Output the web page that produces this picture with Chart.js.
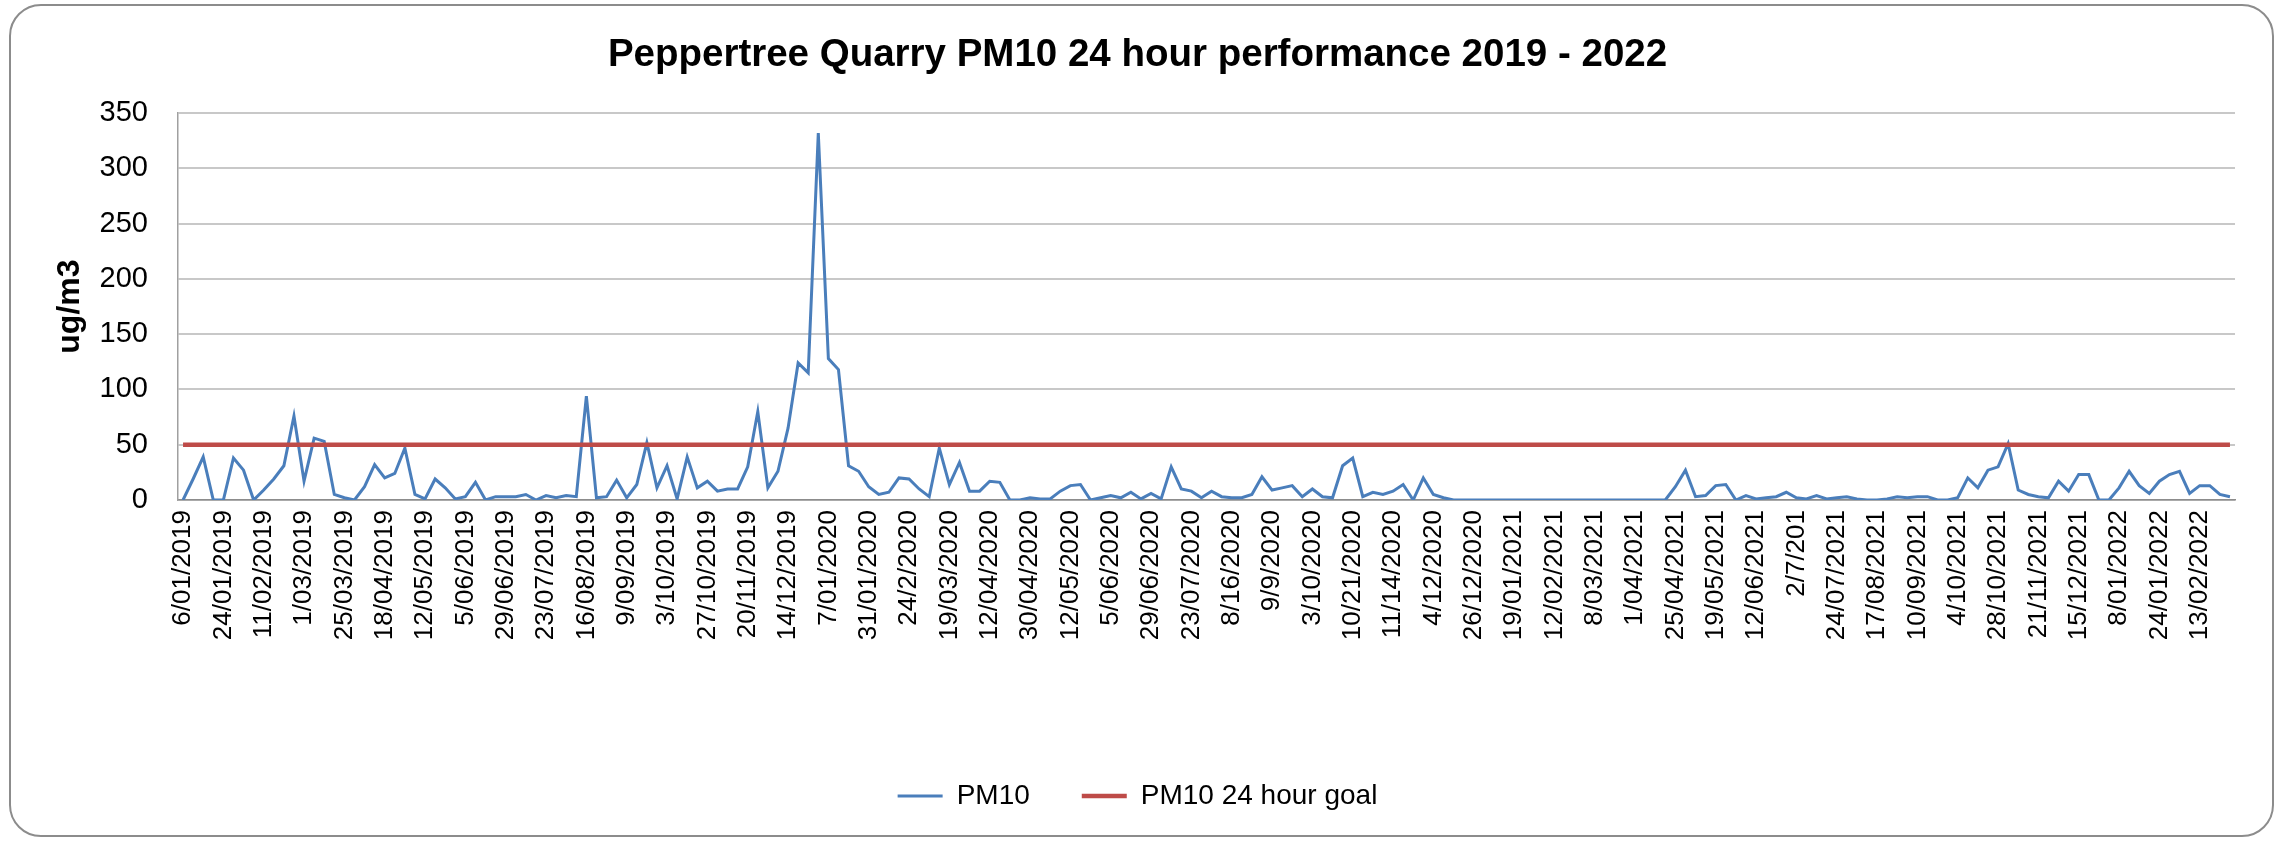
<!DOCTYPE html>
<html><head><meta charset="utf-8">
<script src="https://cdn.jsdelivr.net/npm/chart.js@4"></script>
<style>
html,body{margin:0;padding:0;background:#fff;}
#wrap{position:relative;width:2282px;height:841px;overflow:hidden;}
#frame{position:absolute;left:9px;top:4px;width:2265px;height:833px;border:2px solid #8c8c8c;border-radius:32px;box-sizing:border-box;}
canvas{position:absolute;left:0;top:0;}
</style></head><body>
<div id="wrap"><div id="frame"></div><canvas id="c" width="2282" height="841" style="width:2282px;height:841px"></canvas></div>
<script>
const chartTitle = 'Peppertree Quarry PM10 24 hour performance 2019 - 2022';
const yAxisTitle = 'ug/m3';
const seriesNames = ['PM10', 'PM10 24 hour goal'];
const tickLabels = ['6/01/2019','24/01/2019','11/02/2019','1/03/2019','25/03/2019','18/04/2019','12/05/2019','5/06/2019','29/06/2019','23/07/2019','16/08/2019','9/09/2019','3/10/2019','27/10/2019','20/11/2019','14/12/2019','7/01/2020','31/01/2020','24/2/2020','19/03/2020','12/04/2020','30/04/2020','12/05/2020','5/06/2020','29/06/2020','23/07/2020','8/16/2020','9/9/2020','3/10/2020','10/21/2020','11/14/2020','4/12/2020','26/12/2020','19/01/2021','12/02/2021','8/03/2021','1/04/2021','25/04/2021','19/05/2021','12/06/2021','2/7/201','24/07/2021','17/08/2021','10/09/2021','4/10/2021','28/10/2021','21/11/2021','15/12/2021','8/01/2022','24/01/2022','13/02/2022'];
const labelEvery = 4;
const pm10 = [0,19,39,0,0,38,27,0,9,19,31,76,17,56,53,5,2,0,12,32,20,24,47,5,1,19,11,1,3,16,
0,3,3,3,5,0,4,2,4,3,94,2,3,18,2,14,52,11,31,1,39,11,17,8,10,10,30,80,11,26,
65,124,115,332,128,118,31,26,12,5,7,20,19,10,3,47,14,34,8,8,17,16,0,0,2,1,1,8,13,14,
0,2,4,2,7,1,6,1,30,10,8,2,8,3,2,2,5,21,9,11,13,3,10,3,2,31,38,3,7,5,
8,14,0,20,5,2,0,0,0,0,0,0,0,0,0,0,0,0,0,0,0,0,0,0,0,0,0,0,12,27,
3,4,13,14,0,4,1,2,3,7,2,1,4,1,2,3,1,0,0,1,3,2,3,3,0,0,2,20,11,27,
30,51,9,5,3,2,17,8,23,23,0,0,11,26,13,6,17,23,26,6,13,13,5,3];
const goalValue = 50;
const yMin = 0, yMax = 350, yStep = 50;

const categories = pm10.map((v, i) => (i % labelEvery === 0 && tickLabels[i / labelEvery] !== undefined) ? tickLabels[i / labelEvery] : '');
const goal = categories.map(() => goalValue);

const FONT = "'Liberation Sans', Arial, sans-serif";
Chart.defaults.font.family = FONT;
Chart.defaults.color = '#000';

new Chart(document.getElementById('c'), {
  type: 'line',
  data: {
    labels: categories,
    datasets: [
      { label: seriesNames[0], data: pm10, borderColor: '#4A7EBB', backgroundColor: '#4A7EBB', borderWidth: 3, pointRadius: 0, tension: 0, order: 1 },
      { label: seriesNames[1], data: goal, borderColor: '#BE4B48', backgroundColor: '#BE4B48', borderWidth: 4.5, pointRadius: 0, tension: 0, order: 0 }
    ]
  },
  options: {
    responsive: false,
    animation: false,
    events: [],
    layout: { padding: { left: 40, right: 47, top: 0, bottom: 21 } },
    plugins: {
      tooltip: { enabled: false },
      title: {
        display: true, text: chartTitle,
        font: { family: FONT, size: 38.5, weight: 'bold' },
        color: '#000',
        padding: { top: 32, bottom: 35 }
      },
      legend: {
        position: 'bottom',
        labels: {
          font: { family: FONT, size: 28 },
          color: '#000',
          usePointStyle: true, pointStyle: 'line', pointStyleWidth: 45,
          padding: 52,
          sort: (a, b) => a.datasetIndex - b.datasetIndex
        }
      }
    },
    scales: {
      x: {
        offset: true,
        grid: { display: false, drawTicks: false },
        border: { display: true, color: '#8c8c8c', width: 1.5 },
        ticks: { autoSkip: false, minRotation: 90, maxRotation: 90, padding: 10, font: { family: FONT, size: 26 }, color: '#000' },
        afterFit: (s) => { s.height = 230; }
      },
      y: {
        min: yMin, max: yMax,
        grid: { color: '#c8c8c8', lineWidth: 2, drawTicks: false },
        border: { display: true, color: '#a0a0a0', width: 1.5 },
        ticks: { stepSize: yStep, padding: 30, font: { family: FONT, size: 29 }, color: '#000' },
        title: { display: true, text: yAxisTitle, font: { family: FONT, size: 32, weight: 'bold' }, color: '#000', padding: { top: 11, bottom: 0 } },
        afterFit: (s) => { s.width = 138; }
      }
    }
  }
});
</script>
</body></html>
